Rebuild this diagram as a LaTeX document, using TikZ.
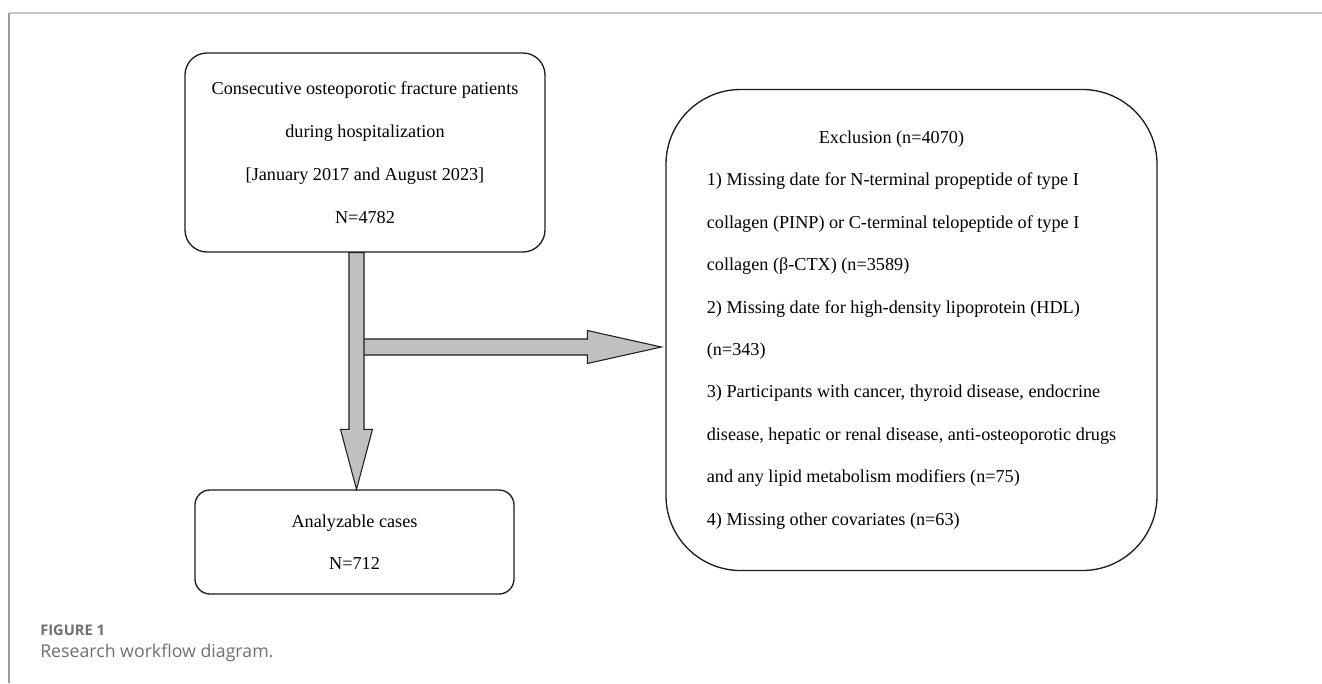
\documentclass[tikz,border=0pt]{standalone}
\usepackage{fontspec}
\setmainfont{Liberation Serif}
\newfontfamily\capfont{Open Sans}
\usetikzlibrary{calc}
\definecolor{arrowgray}{HTML}{C0C0C0}
\definecolor{linecol}{HTML}{1E1E1E}
\definecolor{frametop}{HTML}{C8C8C8}
\definecolor{frameleft}{HTML}{9A9A9A}
\definecolor{captiongray}{HTML}{707070}
\begin{document}
\begin{tikzpicture}[x=0.75pt,y=-0.75pt,
  flowbox/.style={draw=linecol, line width=1pt, rounded corners=#1, align=center,
    inner sep=0pt, text=black, font=\fontsize{13.65}{32.25}\selectfont},
  blockarrow/.style={draw=linecol, line width=0.8pt, fill=arrowgray, line join=miter},
  capstyle/.style={anchor=base west, inner sep=0pt, text=captiongray}]
\useasboundingbox (0,0) rectangle (1322,683);
\fill[white] (0,0) rectangle (1322,683);
% frame
\draw[frametop, line width=1.1pt] (9,13) -- (1322,13);
\draw[frameleft, line width=1.1pt] (9,13) -- (9,683);
% nodes
\node[flowbox=16.5pt, minimum width=270pt, minimum height=149.25pt] (top) at (365,152.5)
  {Consecutive osteoporotic fracture patients\\during hospitalization\\{[January 2017 and August 2023]}\\N=4782};
\node[flowbox=11.25pt, minimum width=239.25pt, minimum height=78pt,
  font=\fontsize{13.65}{31.5}\selectfont] (bot) at (354.5,542)
  {Analyzable cases\\N=712};
\node[flowbox=56pt, align=left, minimum width=368.25pt, minimum height=360.75pt,
  font=\fontsize{13.65}{31.8}\selectfont] (ex) at (911.5,330)
  {\hspace*{84pt}Exclusion (n=4070)\\
   1) Missing date for N-terminal propeptide of type I\\
   collagen (PINP) or C-terminal telopeptide of type I\\
   collagen (β-CTX) (n=3589)\\
   2) Missing date for high-density lipoprotein (HDL)\\
   (n=343)\\
   3) Participants with cancer, thyroid disease, endocrine\\
   disease, hepatic or renal disease, anti-osteoporotic drugs\\
   and any lipid metabolism modifiers (n=75)\\
   4) Missing other covariates (n=63)};
% connector coordinates
\coordinate (hy) at (0,347);
\coordinate (hstart) at ($(bot.north |- hy)+(2,0)$);
\coordinate (htip) at ($(ex.west |- hy)+(-4,0)$);
\coordinate (vtop) at ($(top.south -| bot.north)+(2,0)$);
\coordinate (vtip) at ($(bot.north)+(2,0)$);
% horizontal block arrow
\draw[blockarrow] ($(hstart)+(0,-8)$) -- ($(htip)+(-74,-8)$) -- ($(htip)+(-74,-16.5)$)
  -- (htip) -- ($(htip)+(-74,16.5)$) -- ($(htip)+(-74,8)$) -- ($(hstart)+(0,8)$) -- cycle;
% vertical block arrow
\draw[blockarrow] ($(vtop)+(-7.5,0)$) -- ($(vtip)+(-7.5,-60)$) -- ($(vtip)+(-16,-60)$)
  -- (vtip) -- ($(vtip)+(16,-60)$) -- ($(vtip)+(7.5,-60)$) -- ($(vtop)+(7.5,0)$) -- cycle;
% caption
\node[capstyle, font=\capfont\bfseries\fontsize{11}{12}\selectfont] (fig) at (40,635) {FIGURE 1};
\node[capstyle, font=\capfont\fontsize{13.3}{15}\selectfont] (cap) at (40,657) {Research workflow diagram.};
\end{tikzpicture}
\end{document}
